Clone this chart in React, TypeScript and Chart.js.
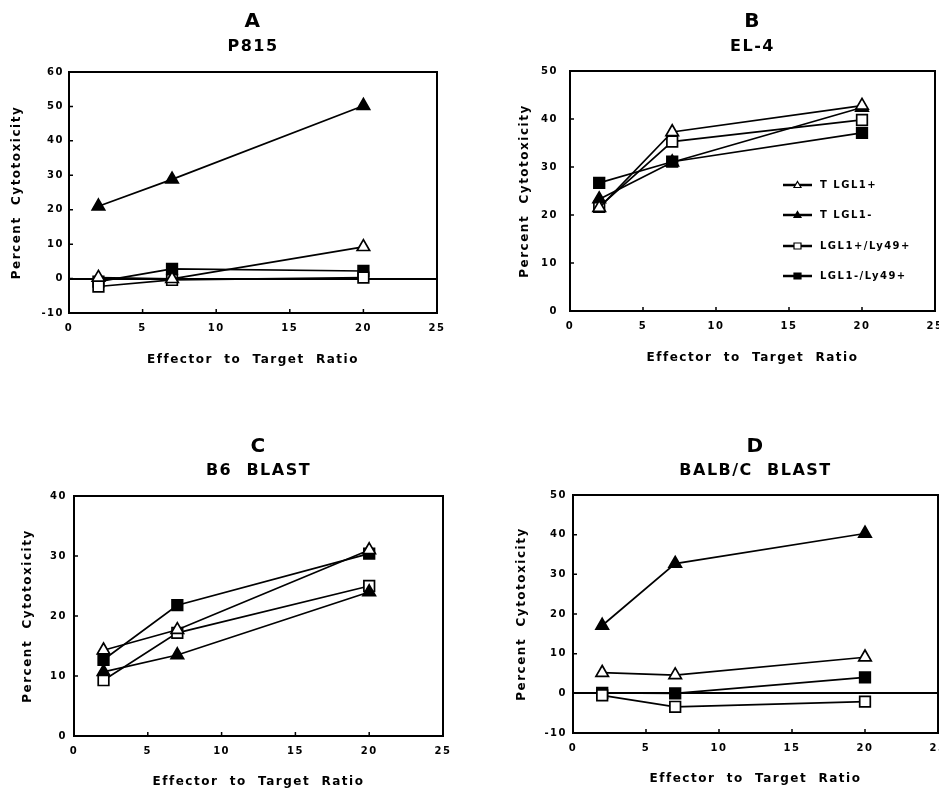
import React, { useEffect, useRef } from 'react';
import { Chart, registerables } from 'chart.js';

Chart.register(...registerables);

// ---------- data ----------
const ratios = [2, 7, 20];
const seriesNames = ['T LGL1+', 'T LGL1-', 'LGL1+/Ly49+', 'LGL1-/Ly49+'];
const xTickValues = [0, 5, 10, 15, 20, 25];

// Panel A: P815
const aTLGL1pos = [0.3, -0.1, 9.2];
const aTLGL1neg = [21, 28.8, 50.2];
const aLGL1posLy49pos = [-2.3, -0.4, 0.3];
const aLGL1negLy49pos = [-0.9, 2.8, 2.2];
const aYTicks = [-10, 0, 10, 20, 30, 40, 50, 60];

// Panel B: EL-4
const bTLGL1pos = [21.5, 37.3, 42.8];
const bTLGL1neg = [23.3, 31, 42.4];
const bLGL1posLy49pos = [21.7, 35.3, 39.8];
const bLGL1negLy49pos = [26.7, 31.1, 37.1];
const bYTicks = [0, 10, 20, 30, 40, 50];

// Panel C: B6 BLAST
const cTLGL1pos = [14.3, 17.7, 31];
const cTLGL1neg = [10.7, 13.5, 24];
const cLGL1posLy49pos = [9.3, 17.2, 25];
const cLGL1negLy49pos = [12.7, 21.8, 30.4];
const cYTicks = [0, 10, 20, 30, 40];

// Panel D: BALB/C BLAST
const dTLGL1pos = [5.2, 4.6, 9.1];
const dTLGL1neg = [17.1, 32.7, 40.3];
const dLGL1posLy49pos = [-0.5, -3.4, -2.1];
const dLGL1negLy49pos = [0.1, 0, 4.0];
const dYTicks = [-10, 0, 10, 20, 30, 40, 50];

// ---------- styling ----------
const FONT = "'DejaVu Sans', 'Liberation Sans', Arial, sans-serif";
const SPACING = '1.5px';
const seriesStyles = [
  { pointStyle: 'triangle', fill: '#ffffff', radius: 7.2 },
  { pointStyle: 'triangle', fill: '#000000', radius: 7.2 },
  { pointStyle: 'rect', fill: '#ffffff', radius: 7.5 },
  { pointStyle: 'rect', fill: '#000000', radius: 7.5 },
];

type Panel = {
  letter: string;
  name: string;
  values: number[][];
  yTicks: number[];
  left: number;
  top: number;
  width: number;
  height: number;
  yAxisW: number;
  padRight: number;
  xAxisH: number;
  yTitlePad: number;
  yTickPad: number;
  xTitlePad: number;
  xTickPad: number;
  titleTop: number;
  titleBottom: number;
  subBottom: number;
  legend: boolean;
};

const panels: Panel[] = [
  {
    letter: 'A', name: 'P815',
    values: [aTLGL1pos, aTLGL1neg, aLGL1posLy49pos, aLGL1negLy49pos], yTicks: aYTicks,
    left: 0, top: 0, width: 470, height: 394,
    yAxisW: 69, padRight: 33, xAxisH: 81,
    yTitlePad: 9, yTickPad: 5, xTitlePad: 26, xTickPad: 9,
    titleTop: 10, titleBottom: 2.8, subBottom: 14.8, legend: false,
  },
  {
    letter: 'B', name: 'EL-4',
    values: [bTLGL1pos, bTLGL1neg, bLGL1posLy49pos, bLGL1negLy49pos], yTicks: bYTicks,
    left: 470, top: 0, width: 485, height: 394,
    yAxisW: 100, padRight: 20, xAxisH: 83,
    yTitlePad: 47, yTickPad: 12, xTitlePad: 28, xTickPad: 9,
    titleTop: 10, titleBottom: 2.8, subBottom: 13.8, legend: true,
  },
  {
    letter: 'C', name: 'B6  BLAST',
    values: [cTLGL1pos, cTLGL1neg, cLGL1posLy49pos, cLGL1negLy49pos], yTicks: cYTicks,
    left: 0, top: 394, width: 470, height: 400,
    yAxisW: 74, padRight: 27, xAxisH: 58,
    yTitlePad: 20, yTickPad: 7, xTitlePad: 4, xTickPad: 9,
    titleTop: 41, titleBottom: 1.8, subBottom: 14.8, legend: false,
  },
  {
    letter: 'D', name: 'BALB/C  BLAST',
    values: [dTLGL1pos, dTLGL1neg, dLGL1posLy49pos, dLGL1negLy49pos], yTicks: dYTicks,
    left: 470, top: 394, width: 485, height: 400,
    yAxisW: 103, padRight: 17, xAxisH: 61,
    yTitlePad: 44, yTickPad: 6, xTitlePad: 7, xTickPad: 9,
    titleTop: 41, titleBottom: 1.8, subBottom: 13.8, legend: false,
  },
];

// ---------- plugins ----------
const spacingPlugin = {
  id: 'letterSpacing',
  beforeUpdate(chart: any) { chart.ctx.letterSpacing = SPACING; },
  beforeDraw(chart: any) { chart.ctx.letterSpacing = SPACING; },
};

const framePlugin = {
  id: 'frame',
  beforeDatasetsDraw(chart: any) {
    const { ctx, chartArea: a, scales } = chart;
    ctx.save();
    ctx.strokeStyle = '#000';
    ctx.lineWidth = 2;
    ctx.strokeRect(a.left, a.top, a.right - a.left, a.bottom - a.top);
    ctx.lineWidth = 1.5;
    ctx.beginPath();
    scales.x.ticks.forEach((t: any) => {
      const px = scales.x.getPixelForValue(t.value);
      if (px > a.left + 2 && px < a.right - 2) {
        ctx.moveTo(px, a.bottom);
        ctx.lineTo(px, a.bottom - 4);
      }
    });
    scales.y.ticks.forEach((t: any) => {
      const py = scales.y.getPixelForValue(t.value);
      if (py > a.top + 2 && py < a.bottom - 2) {
        ctx.moveTo(a.left, py);
        ctx.lineTo(a.left + 4, py);
      }
    });
    ctx.stroke();
    ctx.restore();
  },
};

const legendRowOffsets = [114, 144, 175, 205];
const legendPlugin = {
  id: 'insetLegend',
  afterDatasetsDraw(chart: any) {
    const { ctx, chartArea: a } = chart;
    const x0 = a.left + 213;
    ctx.save();
    chart.data.datasets.forEach((ds: any, i: number) => {
      const y = a.top + legendRowOffsets[i];
      const st = seriesStyles[i];
      ctx.strokeStyle = '#000';
      ctx.lineWidth = 2.5;
      ctx.beginPath();
      ctx.moveTo(x0, y);
      ctx.lineTo(x0 + 29, y);
      ctx.stroke();
      const cx = x0 + 14.5;
      ctx.fillStyle = st.fill;
      ctx.lineWidth = 1.2;
      ctx.beginPath();
      if (st.pointStyle === 'triangle') {
        ctx.moveTo(cx, y - 3.5);
        ctx.lineTo(cx + 3.5, y + 2.5);
        ctx.lineTo(cx - 3.5, y + 2.5);
        ctx.closePath();
      } else {
        ctx.rect(cx - 3.5, y - 3, 7, 6);
      }
      ctx.fill();
      ctx.stroke();
      ctx.fillStyle = '#000';
      ctx.font = `bold 10px ${FONT}`;
      ctx.textAlign = 'left';
      ctx.textBaseline = 'middle';
      ctx.fillText(ds.label, a.left + 250, y + 0.5);
    });
    ctx.restore();
  },
};

function buildConfig(p: Panel): any {
  const yMin = p.yTicks[0];
  const yMax = p.yTicks[p.yTicks.length - 1];
  const datasets = seriesNames.map((label, i) => ({
    label,
    data: p.values[i].map((y, j) => ({ x: ratios[j], y })),
    borderColor: '#000',
    borderWidth: 1.7,
    pointStyle: seriesStyles[i].pointStyle,
    pointRadius: seriesStyles[i].radius,
    pointBackgroundColor: seriesStyles[i].fill,
    pointBorderColor: '#000',
    pointBorderWidth: 1.7,
    fill: false,
    tension: 0,
  }));
  const plugins: any[] = [spacingPlugin, framePlugin];
  if (p.legend) plugins.push(legendPlugin);
  return {
    type: 'line',
    data: { datasets },
    plugins,
    options: {
      animation: false,
      responsive: false,
      maintainAspectRatio: false,
      events: [],
      layout: { padding: { left: 0, right: p.padRight, top: 0, bottom: 0 } },
      plugins: {
        legend: { display: false },
        tooltip: { enabled: false },
        title: {
          display: true,
          text: p.letter,
          fullSize: false,
          color: '#000',
          font: { family: FONT, size: 20, weight: 'bold', lineHeight: 1.2 },
          padding: { top: p.titleTop, bottom: p.titleBottom },
        },
        subtitle: {
          display: true,
          text: p.name,
          fullSize: false,
          color: '#000',
          font: { family: FONT, size: 16, weight: 'bold', lineHeight: 1.275 },
          padding: { top: 0, bottom: p.subBottom },
        },
      },
      scales: {
        x: {
          type: 'linear',
          min: xTickValues[0],
          max: xTickValues[xTickValues.length - 1],
          afterBuildTicks: (s: any) => { s.ticks = xTickValues.map((v) => ({ value: v })); },
          ticks: {
            padding: p.xTickPad,
            color: '#000',
            maxRotation: 0,
            autoSkip: false,
            font: { family: FONT, size: 10, weight: 'bold' },
          },
          grid: { display: false, drawTicks: false },
          border: { display: false },
          title: {
            display: true,
            text: 'Effector  to  Target  Ratio',
            color: '#000',
            font: { family: FONT, size: 12, weight: 'bold', lineHeight: 1.3 },
            padding: { top: 0, bottom: p.xTitlePad },
          },
          afterFit: (s: any) => {
            s.height = p.xAxisH;
            s.paddingLeft = 0;
            s.paddingRight = 0;
          },
        },
        y: {
          type: 'linear',
          min: yMin,
          max: yMax,
          afterBuildTicks: (s: any) => { s.ticks = p.yTicks.map((v) => ({ value: v })); },
          ticks: {
            padding: p.yTickPad,
            color: '#000',
            autoSkip: false,
            font: { family: FONT, size: 10, weight: 'bold' },
          },
          grid: {
            display: true,
            drawOnChartArea: true,
            drawTicks: false,
            lineWidth: 2,
            color: (c: any) =>
              c.tick && c.tick.value === 0 && yMin < 0 ? '#000' : 'rgba(0,0,0,0)',
          },
          border: { display: false },
          title: {
            display: true,
            text: 'Percent  Cytotoxicity',
            color: '#000',
            font: { family: FONT, size: 12, weight: 'bold', lineHeight: 1.3 },
            padding: { top: p.yTitlePad, bottom: 0 },
          },
          afterFit: (s: any) => {
            s.width = p.yAxisW;
            s.paddingTop = 0;
            s.paddingBottom = 0;
          },
        },
      },
    },
  };
}

function PanelChart({ p }: { p: Panel }) {
  const ref = useRef<HTMLCanvasElement | null>(null);
  useEffect(() => {
    if (!ref.current) return;
    const chart = new Chart(ref.current, buildConfig(p));
    return () => chart.destroy();
  }, [p]);
  return (
    <canvas
      ref={ref}
      width={p.width}
      height={p.height}
      style={{
        position: 'absolute',
        left: p.left,
        top: p.top,
        width: p.width,
        height: p.height,
        display: 'block',
      }}
    />
  );
}

export default function App() {
  return (
    <div
      style={{
        position: 'absolute',
        left: 0,
        top: 0,
        width: 939,
        height: 788,
        overflow: 'hidden',
        background: '#fff',
      }}
    >
      {panels.map((p) => (
        <PanelChart key={p.letter} p={p} />
      ))}
    </div>
  );
}
